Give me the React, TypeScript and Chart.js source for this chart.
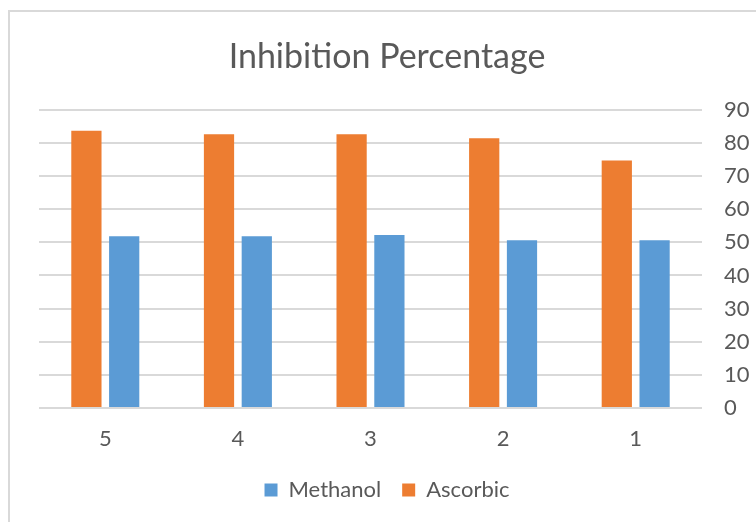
import React, { useEffect, useRef } from "react";
import { Chart, registerables } from "chart.js";

Chart.register(...registerables);

const categories = ["5", "4", "3", "2", "1"];
const ascorbic = [83.7, 82.6, 82.6, 81.4, 74.7];
const methanol = [51.8, 51.8, 52.2, 50.6, 50.6];
const yTicks = [0, 10, 20, 30, 40, 50, 60, 70, 80, 90];

const FONT = "Lato, 'Open Sans', sans-serif";
const TEXT = "#595959";

export default function App() {
  const ref = useRef<HTMLCanvasElement | null>(null);

  useEffect(() => {
    if (!ref.current) return;
    const chart = new Chart(ref.current, {
      type: "bar",
      data: {
        labels: categories,
        datasets: [
          {
            label: "Ascorbic",
            data: ascorbic,
            backgroundColor: "#ED7D31",
            categoryPercentage: 0.57,
            barPercentage: 0.8,
            yAxisID: "y",
          },
          {
            label: "Methanol",
            data: methanol,
            backgroundColor: "#5B9BD5",
            categoryPercentage: 0.57,
            barPercentage: 0.8,
            yAxisID: "y",
          },
        ],
      },
      options: {
        animation: false,
        responsive: false,
        maintainAspectRatio: false,
        layout: { padding: { left: 18, right: 0, top: 0, bottom: 11 } },
        plugins: {
          title: {
            display: true,
            text: "Inhibition Percentage",
            color: TEXT,
            font: { family: FONT, size: 34, weight: "normal" },
            padding: { top: 37, bottom: 32 },
          },
          legend: {
            position: "bottom",
            reverse: true,
            labels: {
              color: TEXT,
              font: { family: FONT, size: 22 },
              boxWidth: 13,
              boxHeight: 13,
              padding: 21,
            },
          },
          tooltip: { enabled: false },
        },
        scales: {
          x: {
            grid: { display: false },
            border: { display: false },
            afterFit: (axis: any) => {
              axis.height = 50;
            },
            ticks: {
              color: TEXT,
              font: { family: FONT, size: 22 },
              padding: 10,
            },
          },
          spacer: {
            type: "linear",
            position: "left",
            display: true,
            grid: { display: false },
            border: { display: false },
            ticks: { display: false },
            afterFit: (axis: any) => {
              axis.width = 21;
            },
          },
          y: {
            position: "right",
            min: 0,
            max: 90,
            afterBuildTicks: (axis: any) => {
              axis.ticks = yTicks.map((v) => ({ value: v }));
            },
            afterFit: (axis: any) => {
              axis.width = 54;
            },
            grid: {
              color: "#d9d9d9",
              lineWidth: 2,
              drawTicks: false,
            },
            border: { display: false },
            ticks: {
              color: TEXT,
              font: { family: FONT, size: 22 },
              padding: 22,
            },
          },
        },
      },
    });
    return () => chart.destroy();
  }, []);

  return (
    <div
      style={{
        position: "fixed",
        left: 0,
        top: 0,
        width: 756,
        height: 522,
        background: "#ffffff",
      }}
    >
      <canvas ref={ref} width={756} height={522} style={{ position: "absolute", left: 0, top: 0 }} />
      <div
        style={{
          position: "absolute",
          left: 8,
          top: 10,
          right: 0,
          bottom: 0,
          borderLeft: "2px solid #d9d9d9",
          borderTop: "2px solid #d9d9d9",
          pointerEvents: "none",
        }}
      />
    </div>
  );
}
